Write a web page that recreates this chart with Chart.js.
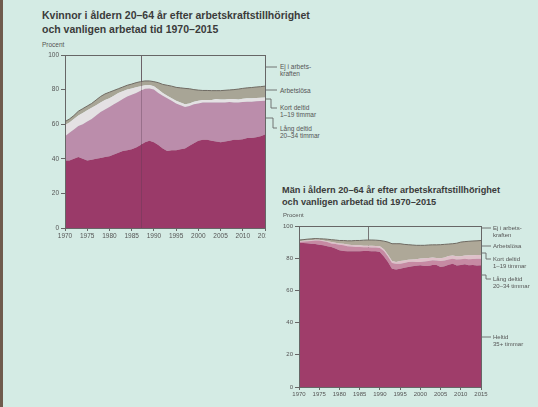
<!DOCTYPE html>
<html lang="sv">
<head>
<meta charset="utf-8">
<script src="https://cdn.jsdelivr.net/npm/chart.js@4"></script>
<style>
  html, body { margin: 0; padding: 0; }
  body {
    width: 538px; height: 407px; position: relative; overflow: hidden;
    background: #d4ebe4;
    font-family: "Liberation Sans Narrow", "Liberation Sans", Arial, sans-serif;
  }
  .title { position: absolute; font-weight: bold; color: #3b3b3b; white-space: nowrap; }
  .unit, .lbl { position: absolute; color: #555; white-space: nowrap; }
  canvas { position: absolute; }
  svg { position: absolute; left: 0; top: 0; }
  #strip { position: absolute; left: 0; top: 0; width: 3px; height: 407px; background: #6f5b4d; }
</style>
</head>
<body>
<div id="strip"></div>

<div class="title" style="left:42px;top:8px;font-size:10.5px;line-height:14px;">Kvinnor i åldern 20–64 år efter arbetskraftstillhörighet<br>och vanligen arbetad tid 1970–2015</div>
<div class="unit" style="left:42px;top:41px;font-size:6.5px;">Procent</div>
<canvas id="kv" width="236" height="205" style="left:30px;top:45px;"></canvas>

<div class="lbl" style="left:280px;top:63px;font-size:6.5px;line-height:7px;">Ej i arbets-<br>kraften</div>
<div class="lbl" style="left:280px;top:87px;font-size:6.5px;line-height:7px;">Arbetslösa</div>
<div class="lbl" style="left:280px;top:104px;font-size:6.5px;line-height:7px;">Kort deltid<br>1–19 timmar</div>
<div class="lbl" style="left:280px;top:125px;font-size:6.5px;line-height:7px;">Lång deltid<br>20–34 timmar</div>

<div class="title" style="left:282px;top:184px;font-size:9.2px;line-height:12px;">Män i åldern 20–64 år efter arbetskraftstillhörighet<br>och vanligen arbetad tid 1970–2015</div>
<div class="unit" style="left:283px;top:212px;font-size:6px;">Procent</div>
<canvas id="man" width="230" height="189" style="left:262px;top:216px;"></canvas>

<div class="lbl" style="left:493px;top:225px;font-size:6px;line-height:6.5px;">Ej i arbets-<br>kraften</div>
<div class="lbl" style="left:493px;top:243px;font-size:6px;line-height:6.5px;">Arbetslösa</div>
<div class="lbl" style="left:493px;top:256px;font-size:6px;line-height:6.5px;">Kort deltid<br>1–19 timmar</div>
<div class="lbl" style="left:493px;top:276px;font-size:6px;line-height:6.5px;">Lång deltid<br>20–34 timmar</div>
<div class="lbl" style="left:493px;top:334px;font-size:6px;line-height:6.5px;">Heltid<br>35+ timmar</div>

<svg width="538" height="407">
  <g fill="none" stroke="#666" stroke-width="0.9">
    <path d="M265 67 H277"/>
    <path d="M265 90 H277"/>
    <path d="M265 99 H271 V108 H277"/>
    <path d="M265 118 H273 V128 H277"/>
    <path d="M481 228 H491"/>
    <path d="M481 246 H491"/>
    <path d="M481 253 H486 V259 H491"/>
    <path d="M481 275 H486 V279 H491"/>
    <path d="M481 337 H491"/>
  </g>
</svg>

<script>
const years = [1970,1971,1972,1973,1974,1975,1976,1977,1978,1979,
  1980,1981,1982,1983,1984,1985,1986,1987,1988,1989,
  1990,1991,1992,1993,1994,1995,1996,1997,1998,1999,
  2000,2001,2002,2003,2004,2005,2006,2007,2008,2009,
  2010,2011,2012,2013,2014,2015];
const markerYear = 1987;

// kvinnor, andel i procent
const kvHeltid = [39,39,40,41,40,39,39.5,40,40.5,41,
  41.5,42.5,43.5,44.5,45,45.5,46.5,48,49.5,50.5,
  49.5,48,46,44.5,45,45,45.5,46,47.5,49,
  50.5,51,51,50.5,50,49.5,50,50.5,51,51,
  51.3,52,52,52.5,53,54];
const kvLang = [14,16,17,18,20,22.5,23.5,25,26.5,27.5,
  28.5,29,29.5,30,31,31.5,31.5,31.4,31,30.2,
  30.5,30,30.5,30.5,28.5,27,25.5,24,23,22.5,
  21.5,21.5,21.5,22,22.5,23.1,22.5,22.3,21.5,21.5,
  21.5,21,21,20.7,20.4,19.6];
const kvKort = [6.5,6,6,6,6.5,6.5,6.5,6,5.5,5.5,
  5,5,5,4.5,4,3.7,3.3,2.6,2,1.9,
  2,2,1.5,1.5,1.5,1.5,1.5,1.5,1.5,1.5,
  1.6,1.5,1.5,1.5,2,1.7,1.8,1.7,2,1.8,
  1.9,2,2,2,1.9,1.9];
const kvArbetslosa = [2,2,2,2.5,2.5,2.5,2.5,3,3.5,3.5,
  3.5,3,2.5,2.5,2.5,2.5,2.7,2.6,2.5,2.4,
  2.6,4,5,6,7,7.8,8.5,9.2,8.5,7,
  6.1,5.5,5.5,5.4,4.9,5.1,5.3,5.3,5.5,6,
  6,6,6.2,6.3,6.4,6.5];

// män
const manHeltid = [89.5,89.5,89.3,89,88.8,88.4,88,87.5,86.9,86,
  85,84.5,84.3,84.3,84.3,84.3,84.5,84.5,84.3,84.3,
  83.8,81,77.6,73.5,73,73.5,74,74.5,75,75.3,
  75.6,75.2,75.1,75.8,75.8,74.5,75,75.9,76.6,75.5,
  75.8,76.2,75.6,75.8,75.5,75.6];
const manLang = [0.5,0.8,1.2,1.7,2.2,2.6,2.5,2.5,2.3,2.8,
  3.4,3.5,3.2,2.9,2.7,2.7,2.3,2.3,2.4,2.3,
  2.6,3.5,3.4,3.5,3.5,3.1,3,3.1,2.8,2.4,
  2,2.8,3.2,2.9,2.7,3.7,3.5,3.3,3.1,3.7,
  3.5,3.4,3.7,3.7,4.1,4.1];
const manKort = [0.5,0.5,0.5,0.5,0.4,0.4,0.5,0.6,0.8,0.8,
  0.8,1,1,1,1,1,1,1,1,1,
  1,1,1.2,1.2,1.2,1.6,1.6,1.4,1.4,1.7,
  2.2,2,1.9,1.8,1.7,1.8,1.9,2.1,2,2,
  1.9,2,2.5,2.4,2.4,2.3];
const manArbetslosa = [0.8,0.7,0.8,0.8,0.8,0.7,1,1.2,1.5,1.7,
  1.8,2,2.3,2.6,3,3,3.4,3.5,3.6,3.6,
  3.6,5.1,7.8,10.8,11.3,10.8,10,9.4,9,8.6,
  8.2,8,8,7.8,8.1,8.4,8.2,7.5,7.3,8.1,
  8.8,8.7,8.7,8.8,8.8,9];

const kvColors = ['#9a3a69', '#bb8dab', '#e4e1e3', '#a8a596'];
const manColors = ['#9f3d6a', '#c68aa3', '#dfc0c9', '#aea898'];

const framePlugin = {
  id: 'frame',
  beforeDatasetsDraw(chart, args, opts) {
    const {ctx, chartArea: a, scales: {x}} = chart;
    const px = Math.round(x.getPixelForValue(markerYear)) + 0.5;
    ctx.save();
    ctx.strokeStyle = '#777';
    ctx.lineWidth = 1;
    ctx.beginPath();
    ctx.moveTo(px, a.top);
    ctx.lineTo(px, a.bottom);
    ctx.stroke();
    ctx.restore();
  },
  afterDatasetsDraw(chart, args, opts) {
    const {ctx, chartArea: a, scales: {x}} = chart;
    ctx.save();
    if (opts.markerOnTop) {
      const px = Math.round(x.getPixelForValue(markerYear)) + 0.5;
      ctx.strokeStyle = 'rgba(90,60,80,0.35)';
      ctx.beginPath();
      ctx.moveTo(px, a.top);
      ctx.lineTo(px, a.bottom);
      ctx.stroke();
    }
    ctx.strokeStyle = '#666';
    ctx.lineWidth = 1;
    ctx.strokeRect(Math.round(a.left) + 0.5, Math.round(a.top) + 0.5,
      Math.round(a.right - a.left), Math.round(a.bottom - a.top));
    ctx.restore();
  }
};

function makeChart(id, series, colors, geo) {
  const names = ['Heltid 35+ timmar', 'Lång deltid 20–34 timmar', 'Kort deltid 1–19 timmar', 'Arbetslösa'];
  const datasets = series.map((vals, i) => ({
    label: names[i],
    data: vals.map((v, j) => ({x: years[j], y: v})),
    backgroundColor: colors[i],
    borderColor: i === 3 ? '#6f6a62' : colors[i],
    borderWidth: i === 3 ? 1 : 0,
    fill: i === 0 ? 'origin' : '-1',
    pointRadius: 0,
    tension: 0
  }));
  const tickFont = {family: '"Liberation Sans Narrow", "Liberation Sans", Arial, sans-serif', size: geo.font};
  return new Chart(document.getElementById(id), {
    type: 'line',
    data: {datasets},
    options: {
      responsive: false,
      animation: false,
      devicePixelRatio: 1,
      layout: {padding: {top: 10, right: geo.padRight, left: 0, bottom: 0}},
      plugins: {
        legend: {display: false},
        tooltip: {enabled: false},
        frame: {markerOnTop: geo.markerOnTop}
      },
      scales: {
        x: {
          type: 'linear', min: 1970, max: 2015,
          ticks: {stepSize: 5, autoSkip: false, maxRotation: 0, color: '#555', font: tickFont, padding: 1,
            callback: v => String(v)},
          grid: {drawOnChartArea: false, tickLength: 3, color: '#666'},
          border: {color: '#666'},
          afterFit: s => { s.height = geo.xh; s.paddingLeft = 0; s.paddingRight = 0; }
        },
        y: {
          stacked: true, min: 0, max: 100,
          ticks: {stepSize: 20, color: '#555', font: tickFont, padding: 2},
          grid: {drawOnChartArea: false, tickLength: 4, color: '#666'},
          border: {color: '#666'},
          afterFit: s => { s.width = geo.yw; s.paddingTop = 0; s.paddingBottom = 0; }
        }
      }
    },
    plugins: [framePlugin]
  });
}

makeChart('kv', [kvHeltid, kvLang, kvKort, kvArbetslosa], kvColors,
  {padRight: 1, xh: 22, yw: 35, font: 6.5, markerOnTop: true});
makeChart('man', [manHeltid, manLang, manKort, manArbetslosa], manColors,
  {padRight: 11, xh: 18, yw: 37, font: 6, markerOnTop: false});
</script>
</body>
</html>
